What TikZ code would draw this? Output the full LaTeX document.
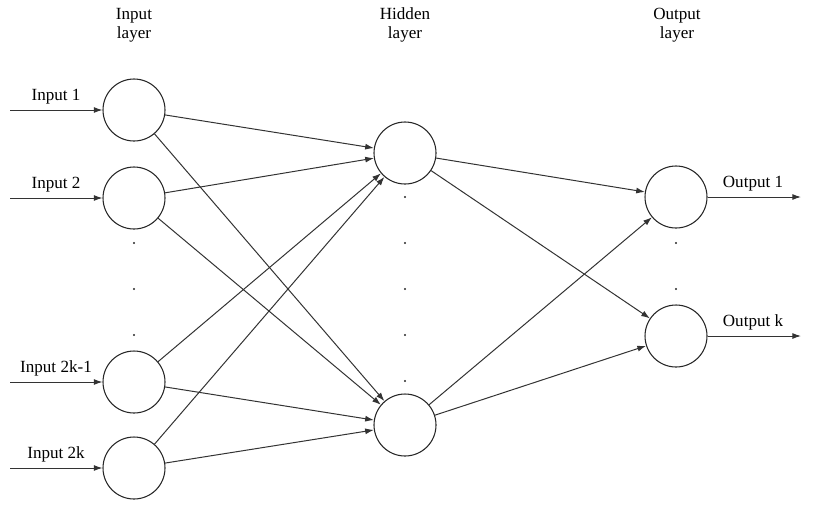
\documentclass[tikz,border=0pt]{standalone}
\usepackage{fontspec}
\setmainfont{Liberation Serif}
\usetikzlibrary{arrows.meta}
\newcommand{\hstrut}{\rule{0pt}{10pt}}
\tikzset{
  neuron/.style={circle,draw=black!85,line width=0.8pt,minimum size=46.5pt,inner sep=0pt},
  conn/.style={draw=black!80,line width=0.75pt,-{Latex[length=6.5pt,width=4.5pt]}},
  lbl/.style={font=\fontsize{12.8}{14}\selectfont,anchor=base,inner sep=0pt},
  hdr/.style={font=\fontsize{12.8}{14}\selectfont,align=center,inner sep=0pt,anchor=north},
  dotmark/.style={circle,fill=black!85,minimum size=1.6pt,inner sep=0pt}
}
\begin{document}
\begin{tikzpicture}[x=0.75pt,y=-0.75pt]
\useasboundingbox (0,0) rectangle (813,508);
% headers
\node[hdr] (h1) at (134,6.2) {\hstrut Input\\layer};
\node[hdr] (h2) at (405,6.2) {\hstrut Hidden\\layer};
\node[hdr] (h3) at (677,6.2) {\hstrut Output\\layer};
% input neurons
\node[neuron] (i1) at (134,110) {};
\node[neuron] (i2) at (134,198) {};
\node[neuron] (i3) at (134,382) {};
\node[neuron] (i4) at (134,468) {};
% hidden neurons
\node[neuron] (m1) at (405,153) {};
\node[neuron] (m2) at (405,425) {};
% output neurons
\node[neuron] (o1) at (676,197) {};
\node[neuron] (o2) at (676,336) {};
% input arrows
\coordinate (s1) at (10,110);
\coordinate (s2) at (10,198);
\coordinate (s3) at (10,382);
\coordinate (s4) at (10,468);
\draw[conn] (s1) -- (i1);
\draw[conn] (s2) -- (i2);
\draw[conn] (s3) -- (i3);
\draw[conn] (s4) -- (i4);
\node[lbl] (l1) at (56,100) {Input 1};
\node[lbl] (l2) at (56,188) {Input 2};
\node[lbl] (l3) at (56,372) {Input 2k-1};
\node[lbl] (l4) at (56,458) {Input 2k};
% output arrows
\coordinate (e1) at (801,197);
\coordinate (e2) at (801,336);
\draw[conn] (o1) -- (e1);
\draw[conn] (o2) -- (e2);
\node[lbl] (r1) at (753,187) {Output 1};
\node[lbl] (r2) at (753,326) {Output k};
% input to hidden
\foreach \a in {i1,i2,i3,i4}{
  \draw[conn] (\a) -- (m1);
  \draw[conn] (\a) -- (m2);
}
% hidden to output
\foreach \a in {m1,m2}{
  \draw[conn] (\a) -- (o1);
  \draw[conn] (\a) -- (o2);
}
% dots
\node[dotmark] (d1) at (134,243) {};
\node[dotmark] (d2) at (134,289) {};
\node[dotmark] (d3) at (134,335) {};
\node[dotmark] (d4) at (405,197) {};
\node[dotmark] (d5) at (405,243) {};
\node[dotmark] (d6) at (405,289) {};
\node[dotmark] (d7) at (405,335) {};
\node[dotmark] (d8) at (405,381) {};
\node[dotmark] (d9) at (676,243) {};
\node[dotmark] (d10) at (676,289) {};
\end{tikzpicture}
\end{document}
